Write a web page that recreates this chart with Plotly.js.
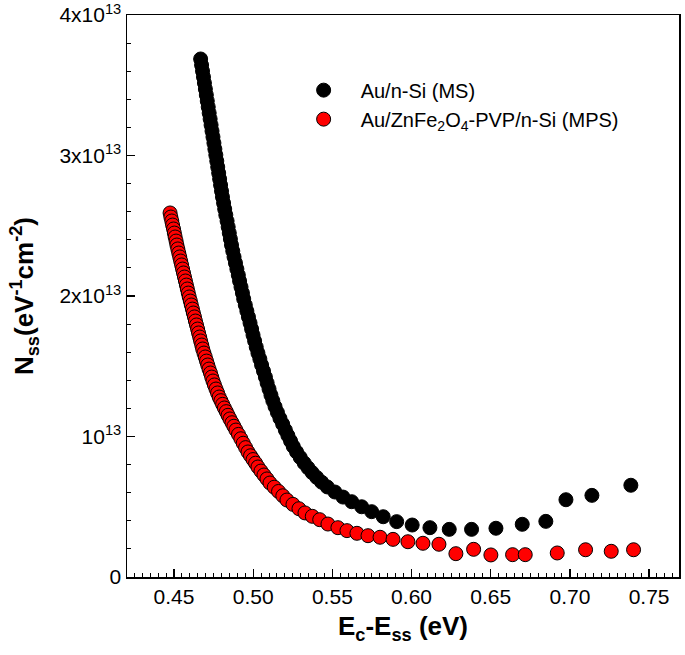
<!DOCTYPE html>
<html>
<head>
<meta charset="utf-8">
<script src="https://cdn.plot.ly/plotly-3.0.1.min.js"></script>
<style>html,body{margin:0;padding:0;background:#fff;}#chart{width:685px;height:655px;}</style>
</head>
<body>
<div id="chart"></div>
<script>
// Ec-Ess (eV) and Nss (in units of 1e13 eV^-1 cm^-2)
var msX = [0.4668,0.4674,0.4680,0.4686,0.4692,0.4698,0.4704,0.4710,0.4716,0.4722,0.4728,0.4734,0.4740,0.4746,0.4752,0.4758,0.4764,0.4770,0.4776,0.4782,0.4788,0.4794,0.4800,0.4806,0.4813,0.4820,0.4827,0.4835,0.4842,0.4849,0.4856,0.4863,0.4871,0.4879,0.4888,0.4897,0.4906,0.4914,0.4923,0.4932,0.4940,0.4950,0.4960,0.4970,0.4980,0.4990,0.4999,0.5009,0.5019,0.5030,0.5042,0.5053,0.5065,0.5077,0.5088,0.5100,0.5112,
  0.5124,0.5138,0.5153,0.5169,0.5186,0.5203,0.5219,0.5236,0.5253,0.5274,0.5297,0.5322,0.5346,0.5372,0.5401,0.5432,0.5468,0.5516,0.5567,0.5622,0.5685,0.5748,0.5821,0.5906,0.6004,0.6116,0.6238,0.6379,0.6533,0.6699,0.6848,0.6975,0.7139,0.7385];
var msY = [3.687,3.644,3.601,3.559,3.516,3.473,3.431,3.388,3.345,3.302,3.260,3.217,3.174,3.132,3.089,3.046,3.004,2.961,2.918,2.875,2.833,2.790,2.747,2.705,2.662,2.619,2.577,2.534,2.491,2.448,2.406,2.363,2.320,2.278,2.235,2.192,2.149,2.107,2.064,2.021,1.979,1.936,1.893,1.851,1.808,1.765,1.722,1.680,1.637,1.594,1.552,1.509,1.466,1.423,1.381,1.338,1.295,
  1.254,1.212,1.171,1.129,1.088,1.046,1.007,0.968,0.929,0.890,0.851,0.811,0.777,0.743,0.709,0.675,0.641,0.605,0.569,0.536,0.500,0.465,0.429,0.394,0.370,0.351,0.339,0.339,0.347,0.375,0.396,0.550,0.581,0.653];

var mpsX = [0.4475,0.4480,0.4486,0.4491,0.4497,0.4502,0.4507,0.4513,0.4518,0.4524,0.4530,0.4536,0.4542,0.4548,0.4554,0.4560,0.4566,0.4572,0.4578,0.4584,0.4590,0.4596,0.4603,0.4609,0.4616,0.4622,0.4629,0.4635,0.4642,0.4649,0.4655,0.4662,0.4668,0.4675,0.4681,0.4689,0.4697,0.4705,0.4713,0.4721,0.4730,0.4738,0.4746,0.4755,0.4765,0.4775,0.4785,
  0.4796,0.4807,0.4818,0.4830,0.4841,0.4853,0.4866,0.4878,0.4891,0.4907,0.4922,0.4937,0.4952,0.4967,0.4983,0.4999,0.5015,0.5030,0.5049,0.5068,0.5087,0.5106,0.5133,0.5160,0.5187,0.5213,0.5251,0.5289,0.5327,0.5373,0.5420,0.5472,0.5535,0.5592,0.5655,0.5725,0.5801,0.5883,0.5977,0.6072,0.6173,
  0.6280,0.6392,0.6501,0.6638,0.6718,0.6920,0.7099,0.7261,0.7402];
var mpsY = [2.591,2.562,2.534,2.505,2.477,2.448,2.420,2.391,2.363,2.335,2.306,2.278,2.249,2.221,2.192,2.164,2.135,2.107,2.078,2.050,2.021,1.993,1.964,1.936,1.907,1.879,1.851,1.822,1.794,1.765,1.737,1.708,1.680,1.651,1.623,1.594,1.566,1.537,1.509,1.480,1.452,1.423,1.395,1.367,1.338,1.310,1.281,
  1.255,1.229,1.203,1.177,1.151,1.125,1.098,1.073,1.046,1.015,0.984,0.952,0.921,0.890,0.863,0.836,0.810,0.783,0.754,0.726,0.698,0.669,0.639,0.609,0.578,0.548,0.517,0.486,0.456,0.432,0.408,0.377,0.351,0.330,0.311,0.294,0.283,0.268,0.251,0.240,0.233,
  0.166,0.197,0.157,0.159,0.159,0.171,0.194,0.183,0.194];

var seriesNames = ['Au/n-Si (MS)', 'Au/ZnFe<sub>2</sub>O<sub>4</sub>-PVP/n-Si (MPS)'];
var xTickVals = [0.45,0.50,0.55,0.60,0.65,0.70,0.75];
var xTickText = ['0.45','0.50','0.55','0.60','0.65','0.70','0.75'];
var yTickVals = [0,1e13,2e13,3e13,4e13];
var yTickText = ['0','10<sup>13</sup>','2x10<sup>13</sup>','3x10<sup>13</sup>','4x10<sup>13</sup>'];

function scale(a){ return a.map(function(v){ return v*1e13; }); }

var FONT = 'Arial, "Liberation Sans", sans-serif';

var traces = [
  {x: msX, y: scale(msY), name: seriesNames[0], type:'scatter', mode:'markers',
   marker:{color:'#000000', size:14, line:{color:'#000000', width:1}}},
  {x: mpsX, y: scale(mpsY), name: seriesNames[1], type:'scatter', mode:'markers',
   marker:{color:'#ff0000', size:14, line:{color:'#000000', width:1}}}
];

var layout = {
  width:685, height:655,
  margin:{l:127, r:6, t:15, b:78},
  paper_bgcolor:'#ffffff', plot_bgcolor:'#ffffff',
  font:{family:FONT, size:21, color:'#000'},
  showlegend:true,
  legend:{x:0.2892, y:0.901, xanchor:'left', yanchor:'top', bgcolor:'rgba(0,0,0,0)',
          font:{family:FONT, size:20, color:'#000'}, itemwidth:64, tracegroupgap:0},
  xaxis:{range:[0.4203,0.7689], tickmode:'array', tickvals:xTickVals, ticktext:xTickText,
         ticks:'inside', ticklen:8, tickwidth:1.2, tickcolor:'#000',
         minor:{tickmode:'linear', tick0:0.45, dtick:0.005, ticks:'inside', ticklen:4, tickwidth:1, tickcolor:'#000', showgrid:false},
         showline:true, linecolor:'#000', linewidth:1.5, mirror:true, showgrid:false, zeroline:false,
         tickfont:{family:FONT, size:21, color:'#000'},
         title:{text:'<b>E<sub>c</sub>-E<sub>ss</sub> (eV)</b>', font:{family:FONT, size:26, color:'#000'}, standoff:10}},
  yaxis:{range:[0,4e13], tickmode:'array', tickvals:yTickVals, ticktext:yTickText,
         ticks:'inside', ticklen:8, tickwidth:1.2, tickcolor:'#000',
         minor:{tickmode:'linear', tick0:0, dtick:2e12, ticks:'inside', ticklen:4, tickwidth:1, tickcolor:'#000', showgrid:false},
         showline:true, linecolor:'#000', linewidth:1.5, mirror:true, showgrid:false, zeroline:false,
         tickfont:{family:FONT, size:21, color:'#000'},
         title:{text:'<b>N<sub>ss</sub>(eV<sup>-1</sup>cm<sup>-2</sup>)</b>', font:{family:FONT, size:26, color:'#000'}, standoff:18}}
};

Plotly.newPlot('chart', traces, layout, {displayModeBar:false, staticPlot:true});
</script>
</body>
</html>
